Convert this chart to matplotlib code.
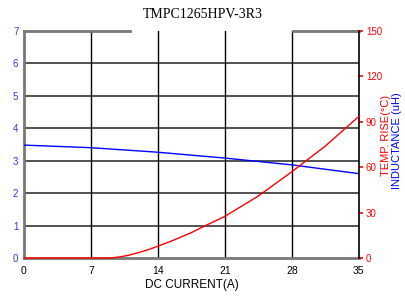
import matplotlib
matplotlib.use("Agg")
import matplotlib.pyplot as plt

# DC current (A) sample points
current = [0, 7, 9, 10, 11, 12, 13, 14, 15.5, 17.5, 19, 21, 24.5, 28, 31.5, 35]
# temperature rise (deg C)
temp_rise = [0, 0, 0, 0.7, 1.9, 3.6, 5.5, 7.8, 11.4, 16.8, 21.5, 27.5, 41, 57, 74, 93.5]
# inductance (uH)
induct_current = [0, 7, 14, 21, 28, 35]
inductance = [3.48, 3.40, 3.26, 3.08, 2.87, 2.60]

x_ticks = [0, 7, 14, 21, 28, 35]
l_ticks = [0, 1, 2, 3, 4, 5, 6, 7]
r_ticks = [0, 30, 60, 90, 120, 150]

sans = "Liberation Sans"

fig = plt.figure(figsize=(4.06, 3.0), dpi=100)
ax = fig.add_axes([0.059, 0.14, 0.825, 0.757])
ax.set_xlim(0, 35)
ax.set_ylim(0, 7)

# grid
for y in l_ticks[1:-1]:
    ax.axhline(y, color="#444444", lw=1.3, zorder=1)
for x in x_ticks[1:-1]:
    ax.axvline(x, color="black", lw=1.0, zorder=1)

# broken top border like the original
ax.axhline(7, xmin=0, xmax=0.317, color="#777777", lw=2, clip_on=False)
ax.axhline(7, xmin=0.803, xmax=1, color="#777777", lw=2, clip_on=False)

ax.spines["top"].set_visible(False)
ax.spines["left"].set_color("#777777")
ax.spines["left"].set_linewidth(2)
ax.spines["bottom"].set_color("#777777")
ax.spines["bottom"].set_linewidth(2)
ax.spines["right"].set_visible(False)

ax.plot(induct_current, inductance, color="blue", lw=1.0, zorder=3)

ax.set_xticks(x_ticks)
ax.set_yticks(l_ticks)
ax.tick_params(axis="x", length=0, pad=6, labelsize=7.5)
ax.tick_params(axis="y", length=0, pad=4, labelsize=7, labelcolor="#3333ff")
for lab in ax.get_xticklabels() + ax.get_yticklabels():
    lab.set_fontfamily(sans)
ax.set_xlabel("DC CURRENT(A)", fontsize=8.5, family=sans, labelpad=2)

ax2 = ax.twinx()
ax2.set_ylim(0, 150)
ax2.plot(current, temp_rise, color="red", lw=1.0, zorder=3, clip_on=False)
ax2.set_yticks(r_ticks)
ax2.tick_params(axis="y", colors="red", length=3, width=1.2, pad=2, labelsize=7)
for lab in ax2.get_yticklabels():
    lab.set_fontfamily(sans)
for s in ["top", "left", "bottom"]:
    ax2.spines[s].set_visible(False)
ax2.spines["right"].set_color("black")
ax2.spines["right"].set_linewidth(1.2)

fig.text(0.950, 0.55, "TEMP. RISE(\u00b0C)", color="red", rotation=90,
         ha="center", va="center", fontsize=8, family=sans)
fig.text(0.978, 0.53, "INDUCTANCE (uH)", color="blue", rotation=90,
         ha="center", va="center", fontsize=8, family=sans)

fig.text(0.5, 0.953, "TMPC1265HPV-3R3", ha="center", va="center",
         fontsize=10, family="Liberation Serif")

fig.savefig("out.png", dpi=100)
